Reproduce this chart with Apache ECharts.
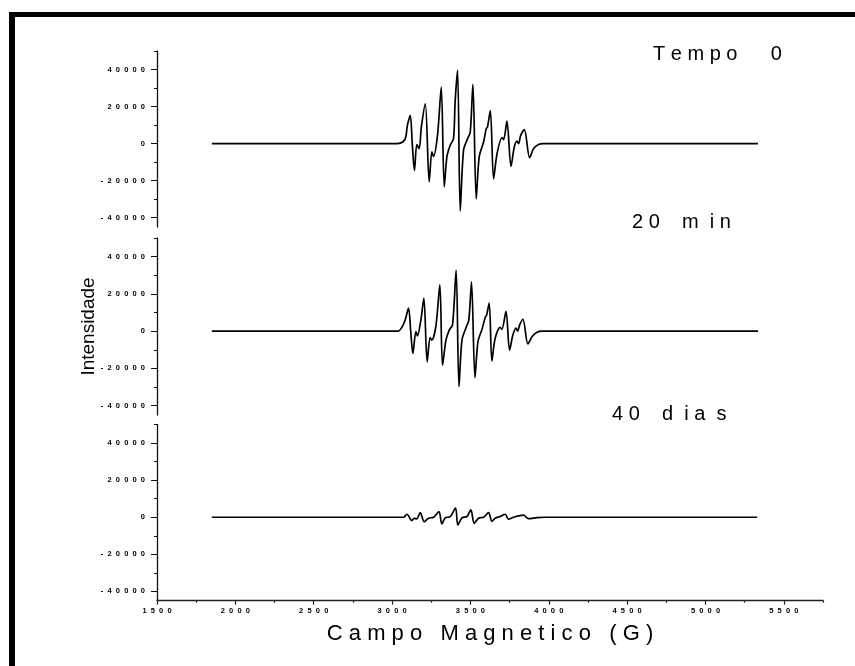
<!DOCTYPE html>
<html>
<head>
<meta charset="utf-8">
<script src="https://cdn.jsdelivr.net/npm/echarts@6/dist/echarts.min.js"></script>
<style>
  html, body { margin: 0; padding: 0; background: #fff; }
  #chart { width: 855px; height: 666px; }
</style>
</head>
<body>
<div id="chart"></div>
<script>
// EPR spectra: magnetic field (G) vs intensity, three ageing times
const campoTempo0 = [1850, 3000, 3052, 3084, 3098, 3116, 3129, 3143, 3158, 3173, 3187, 3212, 3237, 3254, 3264, 3290, 3314, 3333, 3350, 3371, 3392, 3403, 3418, 3435, 3456, 3482, 3499, 3516, 3537, 3556, 3584, 3601, 3609, 3627, 3648, 3670, 3702, 3712, 3733, 3759, 3780, 3797, 3807, 3821, 3844, 3878, 3903, 3935, 3965, 5335];
const intTempo0   = [0, 0, 300, 2700, 9900, 15300, 0, -14500, -500, -2700, 9000, 21500, -20600, -4500, -6900, 4500, 30500, -23300, -7200, -900, 2700, 23500, 39600, -36300, -3600, 2700, 6300, 32000, -29800, -7200, 900, 8100, 9000, 17800, -19000, -5400, 3300, 2200, 12100, -12300, -1800, 1400, 0, 4500, 7600, -7600, -2700, -500, 0, 0];

const campo20min = [1850, 3000, 3039, 3063, 3084, 3105, 3119, 3133, 3152, 3162, 3184, 3203, 3224, 3243, 3254, 3280, 3305, 3322, 3344, 3365, 3386, 3409, 3427, 3446, 3473, 3490, 3507, 3529, 3548, 3574, 3595, 3603, 3620, 3637, 3658, 3690, 3701, 3727, 3750, 3771, 3791, 3801, 3815, 3835, 3867, 3893, 3925, 3957, 5335];
const int20min   = [0, 0, 0, 2100, 6100, 12400, 0, -12000, -300, -2600, 6100, 17800, -16500, -3500, -4800, 2800, 25000, -18300, -4800, 600, 3400, 32800, -29700, -4800, 2100, 6100, 26500, -25000, -5700, 1000, 7500, 8500, 15100, -16000, -3800, 2100, 1000, 10600, -10200, -2100, 1600, 0, 3500, 6400, -6900, -3000, -600, 0, 0];

const campo40dias = [1850, 3052, 3073, 3095, 3126, 3141, 3158, 3180, 3205, 3233, 3265, 3299, 3318, 3339, 3371, 3405, 3420, 3446, 3478, 3503, 3524, 3552, 3584, 3616, 3637, 3658, 3690, 3722, 3743, 3775, 3839, 3871, 3925, 3978, 5330];
const int40dias   = [0, 0, 0, 1600, -1800, -600, -900, 2500, -2400, -500, 0, 3000, -3600, -300, 300, 4900, -4200, -300, 400, 4000, -3300, -500, 0, 2500, -2200, -500, 400, 1600, -1100, 0, 1100, -800, -200, 0, 0];

// axis ticks
const yMajorTicks = [-40000, -20000, 0, 20000, 40000];
const yMinorTicks = [-30000, -10000, 10000, 30000, 50000];
const xMajorTicks = [1500, 2000, 2500, 3000, 3500, 4000, 4500, 5000, 5500];
const xMinorTicks = [1750, 2250, 2750, 3250, 3750, 4250, 4750, 5250, 5750];

const panelNames = ['T e m p o      0', '2 0    m  i n', '4 0    d  i a  s'];

const FONT = '"Liberation Sans", Arial, sans-serif';
const spaced = v => String(v).split('').join('  ');

const grids = [
  { left: 157, right: 32, top: 51, height: 176 },
  { left: 157, right: 32, top: 238, height: 177 },
  { left: 157, right: 32, top: 424.5, height: 176.2 }
];

const xAxes = [];
const yAxes = [];
const series = [];
const pairs = [[campoTempo0, intTempo0], [campo20min, int20min], [campo40dias, int40dias]];

grids.forEach((g, i) => {
  const bottomPanel = i === 2;
  // main x axis for each panel (visible only under the last one)
  xAxes.push({
    type: 'value', gridIndex: i, min: 1500, max: 5750, position: 'bottom',
    show: bottomPanel,
    name: bottomPanel ? 'C a m p o   M a g n e t i c o   ( G )' : '',
    nameLocation: 'middle', nameGap: 22,
    nameTextStyle: { fontFamily: FONT, fontSize: 22, color: '#000' },
    axisLine: { show: true, onZero: false, lineStyle: { color: '#222', width: 1.4 } },
    axisTick: { show: true, customValues: xMajorTicks, length: 4, lineStyle: { color: '#222', width: 1.2 } },
    axisLabel: { show: true, customValues: xMajorTicks, margin: 6, formatter: spaced,
      fontFamily: FONT, fontSize: 7.5, fontWeight: 'bold', color: '#000' },
    splitLine: { show: false }
  });
  // minor x ticks
  xAxes.push({
    type: 'value', gridIndex: i, min: 1500, max: 5750, position: 'bottom',
    show: bottomPanel,
    axisLine: { show: false, onZero: false },
    axisTick: { show: true, customValues: xMinorTicks, length: 2, lineStyle: { color: '#222', width: 1.2 } },
    axisLabel: { show: false },
    splitLine: { show: false }
  });
  // main y axis
  yAxes.push({
    type: 'value', gridIndex: i, min: -45000, max: 50000, position: 'left',
    name: i === 1 ? 'Intensidade' : '',
    nameLocation: 'middle', nameGap: 59, nameRotate: 90, nameMoveOverlap: false,
    nameTextStyle: { fontFamily: FONT, fontSize: 19, color: '#000' },
    axisLine: { show: true, onZero: false, lineStyle: { color: '#111', width: 1.3 } },
    axisTick: { show: true, customValues: yMajorTicks, length: 6, lineStyle: { color: '#111', width: 1 } },
    axisLabel: { show: true, customValues: yMajorTicks, margin: 12, formatter: spaced,
      fontFamily: FONT, fontSize: 7.5, fontWeight: 'bold', color: '#000' },
    splitLine: { show: false }
  });
  // minor y ticks
  yAxes.push({
    type: 'value', gridIndex: i, min: -45000, max: 50000, position: 'left',
    axisLine: { show: false, onZero: false },
    axisTick: { show: true, customValues: yMinorTicks, length: 3, lineStyle: { color: '#111', width: 1 } },
    axisLabel: { show: false },
    splitLine: { show: false }
  });

  const [xs, ys] = pairs[i];
  series.push({
    type: 'line',
    xAxisIndex: i * 2,
    yAxisIndex: i * 2,
    data: xs.map((x, k) => [x, ys[k]]),
    showSymbol: false,
    symbol: 'none',
    smooth: 0.3,
    lineStyle: { color: '#000', width: 1.7 },
    silent: true
  });
});

const chart = echarts.init(document.getElementById('chart'), null, { renderer: 'canvas' });
chart.setOption({
  animation: false,
  backgroundColor: '#fff',
  grid: grids,
  xAxis: xAxes,
  yAxis: yAxes,
  series: series,
  graphic: [
    // frame bars on top and left
    { type: 'rect', shape: { x: 9, y: 12, width: 846, height: 5 }, style: { fill: '#000' } },
    { type: 'rect', shape: { x: 9, y: 12, width: 6, height: 654 }, style: { fill: '#000' } },
    // panel captions
    { type: 'text', left: 653, top: 44, style: { text: panelNames[0], font: '20px ' + FONT, fill: '#000' } },
    { type: 'text', left: 632, top: 212, style: { text: panelNames[1], font: '20px ' + FONT, fill: '#000' } },
    { type: 'text', left: 612, top: 404, style: { text: panelNames[2], font: '20px ' + FONT, fill: '#000' } }
  ]
});
</script>
</body>
</html>
